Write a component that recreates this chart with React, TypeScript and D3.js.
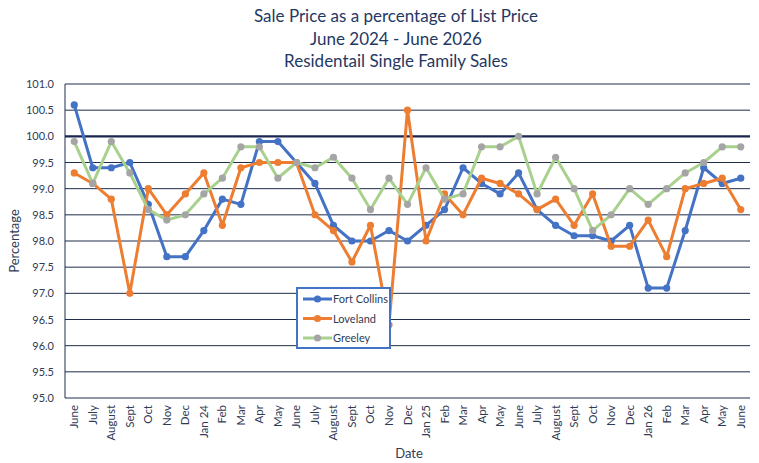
import React from "react";
import * as d3 from "d3";

const monthLabels = [
  "June", "July", "August", "Sept", "Oct", "Nov", "Dec", "Jan 24", "Feb", "Mar", "Apr", "May",
  "June", "July", "August", "Sept", "Oct", "Nov", "Dec", "Jan 25", "Feb", "Mar", "Apr", "May",
  "June", "July", "August", "Sept", "Oct", "Nov", "Dec", "Jan 26", "Feb", "Mar", "Apr", "May",
  "June",
];

const fortCollins = [
  100.6, 99.4, 99.4, 99.5, 98.7, 97.7, 97.7, 98.2, 98.8, 98.7, 99.9, 99.9,
  99.5, 99.1, 98.3, 98.0, 98.0, 98.2, 98.0, 98.3, 98.6, 99.4, 99.1, 98.9,
  99.3, 98.6, 98.3, 98.1, 98.1, 98.0, 98.3, 97.1, 97.1, 98.2, 99.4, 99.1,
  99.2,
];

const loveland = [
  99.3, 99.1, 98.8, 97.0, 99.0, 98.5, 98.9, 99.3, 98.3, 99.4, 99.5, 99.5,
  99.5, 98.5, 98.2, 97.6, 98.3, 96.4, 100.5, 98.0, 98.9, 98.5, 99.2, 99.1,
  98.9, 98.6, 98.8, 98.3, 98.9, 97.9, 97.9, 98.4, 97.7, 99.0, 99.1, 99.2,
  98.6,
];

const greeley = [
  99.9, 99.1, 99.9, 99.3, 98.6, 98.4, 98.5, 98.9, 99.2, 99.8, 99.8, 99.2,
  99.5, 99.4, 99.6, 99.2, 98.6, 99.2, 98.7, 99.4, 98.8, 98.9, 99.8, 99.8,
  100.0, 98.9, 99.6, 99.0, 98.2, 98.5, 99.0, 98.7, 99.0, 99.3, 99.5, 99.8,
  99.8,
];

const yTicks = [95, 95.5, 96, 96.5, 97, 97.5, 98, 98.5, 99, 99.5, 100, 100.5, 101];

const series = [
  { name: "Fort Collins", values: fortCollins, stroke: "#4472c4", marker: "#4472c4" },
  { name: "Loveland", values: loveland, stroke: "#ed7d31", marker: "#ed7d31" },
  { name: "Greeley", values: greeley, stroke: "#a9d18e", marker: "#a5a5a5" },
];

const width = 759;
const height = 463;
const margin = { top: 84, right: 9, bottom: 65, left: 65 };
const font = "Lato, 'Open Sans', sans-serif";
const navy = "#1f2d4a";
const textColor = "#1f3864";

export default function App() {
  const x = d3
    .scalePoint<number>()
    .domain(monthLabels.map((_, i) => i))
    .range([margin.left, width - margin.right])
    .padding(0.5);

  const y = d3
    .scaleLinear()
    .domain([95, 101])
    .range([height - margin.bottom, margin.top]);

  const line = d3
    .line<number>()
    .x((_, i) => x(i) as number)
    .y((d) => y(d));

  const legendX = 297;
  const legendY = 288;

  return (
    <svg
      width={width}
      height={height}
      style={{ position: "absolute", left: 0, top: 0, background: "#fff" }}
      fontFamily={font}
    >
      {/* title */}
      <g fill={textColor} fontSize={17} textAnchor="middle">
        <text x={396} y={22}>Sale Price as a percentage of List Price</text>
        <text x={396} y={45}>June 2024 - June 2026</text>
        <text x={396} y={67}>Residentail Single Family Sales</text>
      </g>

      {/* horizontal gridlines */}
      <g>
        {yTicks.map((t) => (
          <line
            key={t}
            x1={margin.left}
            x2={width - margin.right}
            y1={y(t)}
            y2={y(t)}
            stroke={t === 100 ? "#1a2550" : navy}
            strokeWidth={t === 100 ? 2.2 : 1}
          />
        ))}
        <line
          x1={margin.left}
          x2={margin.left}
          y1={y(101)}
          y2={y(95)}
          stroke={navy}
          strokeWidth={1}
        />
      </g>

      {/* y tick labels */}
      <g fontSize={11} fill="#2f3b55" textAnchor="end">
        {yTicks.map((t) => (
          <text key={t} x={54} y={y(t) + 4}>
            {d3.format(".1f")(t)}
          </text>
        ))}
      </g>
      <text
        transform={`translate(19,${(y(95) + y(101)) / 2}) rotate(-90)`}
        textAnchor="middle"
        fontSize={13}
        fill="#2f3b55"
      >
        Percentage
      </text>

      {/* x tick labels */}
      <g fontSize={11.5} fill="#2f3b55">
        {monthLabels.map((m, i) => (
          <text
            key={i}
            transform={`translate(${(x(i) as number) + 4},${y(95) + 7}) rotate(-90)`}
            textAnchor="end"
          >
            {m}
          </text>
        ))}
      </g>
      <text x={409} y={458} textAnchor="middle" fontSize={13} fill="#2f3b55">
        Date
      </text>

      {/* series */}
      {series.map((s) => (
        <g key={s.name}>
          <path
            d={line(s.values) as string}
            fill="none"
            stroke={s.stroke}
            strokeWidth={3}
            strokeLinejoin="round"
          />
          {s.values.map((v, i) => (
            <circle key={i} cx={x(i) as number} cy={y(v)} r={3.6} fill={s.marker} />
          ))}
        </g>
      ))}

      {/* legend */}
      <g>
        <rect
          x={legendX}
          y={legendY}
          width={93}
          height={60}
          fill="#fff"
          stroke="#4472c4"
          strokeWidth={2}
        />
        {series.map((s, i) => {
          const cy = legendY + 11 + i * 19.5;
          return (
            <g key={s.name}>
              <line
                x1={legendX + 6}
                x2={legendX + 35}
                y1={cy}
                y2={cy}
                stroke={s.stroke}
                strokeWidth={3}
              />
              <circle cx={legendX + 20.5} cy={cy} r={3.6} fill={s.marker} />
              <text x={legendX + 36} y={cy + 4} fontSize={11} fill="#2f3b55">
                {s.name}
              </text>
            </g>
          );
        })}
      </g>
    </svg>
  );
}
